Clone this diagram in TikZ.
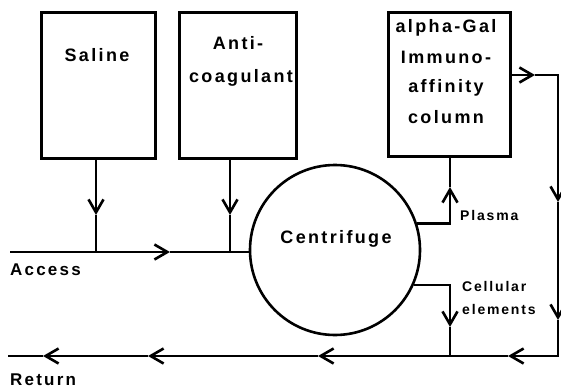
\documentclass[tikz,border=0pt]{standalone}
\usepackage{fontspec}
\setmainfont{Liberation Sans}
\newfontfamily\labfont{Liberation Sans Bold}[LetterSpace=13]
\usetikzlibrary{arrows.meta}
\begin{document}
\begin{tikzpicture}[x=1pt,y=-1pt,
  box/.style={draw, line width=3pt, anchor=north west, inner sep=0pt},
  flow/.style={line width=2.6pt},
  tip/.style={-{Straight Barb[length=13pt,width=15pt,line width=2.6pt]}},
  big/.style={font={\labfont\fontsize{18}{20}\selectfont}, inner sep=0pt},
  small/.style={font={\labfont\fontsize{14}{16}\selectfont}, inner sep=0pt, anchor=west},
  mid/.style={font={\labfont\fontsize{17}{19}\selectfont}, inner sep=0pt, anchor=west}]
\useasboundingbox (0,0) rectangle (561,390);
\fill[white] (0,0) rectangle (561,390);
% boxes
\node[box, minimum width=114pt, minimum height=146pt] (sal) at (40,11) {};
\node[box, minimum width=117pt, minimum height=146pt] (anti) at (178,11) {};
\node[box, minimum width=122pt, minimum height=144pt] (col) at (387,11) {};
\node[draw, circle, line width=2.6pt, minimum size=170pt, inner sep=0pt] (cent) at (335,250) {};
% texts
\node[big] (tsal) at (97,55) {Saline};
\node[big] (tanti1) at (238,43) {Anti-};
\node[big] (tanti2) at (241,78) {coagulant};
\node[big] (tcol1) at (446,28) {alpha-Gal};
\node[big] (tcol2) at (446,57) {Immuno-};
\node[big] (tcol3) at (446,88) {affinity};
\node[big] (tcol4) at (446,117) {column};
\node[big] (tcent) at (336,239) {Centrifuge};
\node[small] (tplas) at (460,215) {Plasma};
\node[small] (tcell1) at (462,286) {Cellular};
\node[small] (tcell2) at (462,309) {elements};
\node[mid] (tacc) at (10,270) {Access};
\node[mid] (tret) at (10,380) {Return};
% coordinates
\coordinate (accL) at (10,252);
\coordinate (salB) at (96,157);
\coordinate (salT) at (96,215);
\coordinate (salJ) at (96,252);
\coordinate (accT) at (170,252);
\coordinate (antB) at (230,157);
\coordinate (antT) at (230,215);
\coordinate (antJ) at (230,252);
\coordinate (plasC) at (450,223);
\coordinate (plasT) at (450,187);
\coordinate (colB) at (450,155);
\coordinate (colR) at (509,75);
\coordinate (rA) at (535,75);
\coordinate (rc) at (558,75);
\coordinate (rB) at (558,202);
\coordinate (rC) at (558,320);
\coordinate (br) at (558,356);
\coordinate (bD) at (508,356);
\coordinate (cellC) at (450,283);
\coordinate (cellT) at (450,327);
\coordinate (cellJ) at (450,356);
\coordinate (bE) at (318,356);
\coordinate (bF) at (148,356);
\coordinate (bG) at (43,356);
\coordinate (retL) at (8,356);
% access line
\draw[flow] (accL) -- (salJ);
\draw[flow,tip] (salJ) -- (accT);
\draw[flow] (accT) -- (cent.west |- accT);
\draw[flow,tip] (salB) -- (salT);
\draw[flow] (salT) -- (salJ);
\draw[flow,tip] (antB) -- (antT);
\draw[flow] (antT) -- (antJ);
% plasma
\draw[flow,tip] (cent.18) -- (cent.18 -| plasC) -- (plasT);
\draw[flow] (plasT) -- (colB);
% column outflow and right loop
\draw[flow,tip] (colR) -- (rA);
\draw[flow,tip] (rA) -- (rc) -- (rB);
\draw[flow,tip] (rB) -- (rC);
\draw[flow,tip] (rC) -- (br) -- (bD);
\draw[flow] (bD) -- (cellJ);
% cellular
\draw[flow,tip] (cent.-24) -- (cent.-24 -| cellC) -- (cellT);
\draw[flow] (cellT) -- (cellJ);
% return line
\draw[flow,tip] (cellJ) -- (bE);
\draw[flow,tip] (bE) -- (bF);
\draw[flow,tip] (bF) -- (bG);
\draw[flow] (bG) -- (retL);
\end{tikzpicture}
\end{document}
